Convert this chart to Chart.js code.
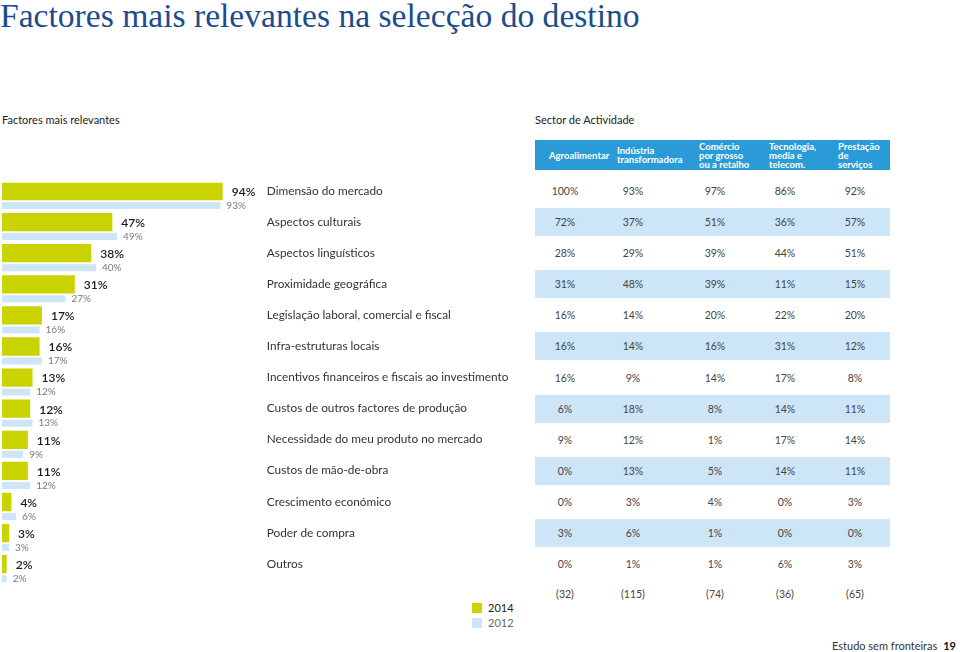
<!DOCTYPE html>
<html lang="pt">
<head>
<meta charset="utf-8">
<title>Factores mais relevantes na selecção do destino</title>
<script src="https://cdn.jsdelivr.net/npm/chart.js@4/dist/chart.umd.min.js"></script>
<style>
  body { margin: 0; background: #fff; }
  #pagina { position: relative; width: 960px; height: 652px; overflow: hidden; font-family: Lato, "Open Sans", sans-serif; color: #333; }
  #titulo { position: absolute; left: 0; top: -3px; font-family: "Liberation Serif", serif; font-size: 33.6px; color: #1b4d8c; white-space: nowrap; }
  .sub { position: absolute; top: 113px; font-size: 11px; color: #222; }
  #caixaGrafico { position: absolute; left: 0; top: 0; width: 530px; height: 600px; }
  #cabecalho { position: absolute; left: 535px; top: 140px; width: 355px; height: 30px; background: #2b9bd7; }
  .sector { position: absolute; top: 140px; height: 30px; display: flex; align-items: center; color: #fff; font-weight: bold; font-size: 9.5px; line-height: 9px; }
  .faixa { position: absolute; left: 535px; width: 355px; height: 28px; background: #cde6f7; }
  .celula { position: absolute; width: 50px; margin-left: -25px; text-align: center; font-size: 10.5px; color: #444; line-height: 12px; }
  .legenda { position: absolute; left: 472px; font-size: 11px; line-height: 12px; }
  .legenda span { display: inline-block; width: 10px; height: 10px; margin-right: 6px; vertical-align: -1px; }
  #rodape { position: absolute; right: 4px; top: 639px; font-size: 11px; color: #333; }
  #rodape b { margin-left: 6px; color: #111; }
</style>
</head>
<body>
<div id="pagina">
  <div id="titulo">Factores mais relevantes na selecção do destino</div>
  <div class="sub" style="left:2px">Factores mais relevantes</div>
  <div class="sub" style="left:535px">Sector de Actividade</div>
  <div id="cabecalho"></div>
  <div id="tabela"></div>
  <div id="caixaGrafico"><canvas id="graficoFactores"></canvas></div>
  <div class="legenda" style="top:602px;color:#222"><span style="background:#c8d300"></span>2014</div>
  <div class="legenda" style="top:617px;color:#666"><span style="background:#cde6f7"></span>2012</div>
  <div id="rodape">Estudo sem fronteiras<b>19</b></div>
</div>
<script>
// Factores e resultados globais
const factores = [
  'Dimensão do mercado', 'Aspectos culturais', 'Aspectos linguísticos', 'Proximidade geográfica',
  'Legislação laboral, comercial e fiscal', 'Infra-estruturas locais',
  'Incentivos financeiros e fiscais ao investimento', 'Custos de outros factores de produção',
  'Necessidade do meu produto no mercado', 'Custos de mão-de-obra', 'Crescimento económico',
  'Poder de compra', 'Outros'
];
const valores2014 = [94, 47, 38, 31, 17, 16, 13, 12, 11, 11, 4, 3, 2];
const valores2012 = [93, 49, 40, 27, 16, 17, 12, 13, 9, 12, 6, 3, 2];

// Sectores de actividade
const sectores = [
  ['Agroalimentar'],
  ['Indústria', 'transformadora'],
  ['Comércio', 'por grosso', 'ou a retalho'],
  ['Tecnologia,', 'media e', 'telecom.'],
  ['Prestação', 'de', 'serviços']
];
const agroalimentar = [100, 72, 28, 31, 16, 16, 16, 6, 9, 0, 0, 3, 0];
const industria = [93, 37, 29, 48, 14, 14, 9, 18, 12, 13, 3, 6, 1];
const comercio = [97, 51, 39, 39, 20, 16, 14, 8, 1, 5, 4, 1, 1];
const tecnologia = [86, 36, 44, 11, 22, 31, 17, 14, 17, 14, 0, 0, 6];
const servicos = [92, 57, 51, 15, 20, 12, 8, 11, 14, 11, 3, 0, 3];
const respostas = [32, 115, 74, 36, 65];

const colunasX = [565, 633, 715, 785, 855];
const cabecalhoX = [549, 617, 699, 769, 838];

// etiquetas de percentagem junto das barras
const etiquetasValores = {
  id: 'etiquetasValores',
  afterDatasetsDraw(chart) {
    const ctx = chart.ctx;
    ctx.save();
    ctx.textBaseline = 'middle';
    ctx.textAlign = 'left';
    chart.data.datasets.forEach(function(ds, di) {
      const meta = chart.getDatasetMeta(di);
      ctx.font = di === 0 ? '600 12px Lato, sans-serif' : '10px Lato, sans-serif';
      ctx.fillStyle = di === 0 ? '#1a1a1a' : '#7a7a7a';
      meta.data.forEach(function(barra, i) {
        ctx.fillText(ds.data[i] + '%', barra.x + (di === 0 ? 9 : 6), barra.y + (di === 0 ? 1 : 0));
      });
    });
    ctx.restore();
  }
};

const grafico = new Chart(document.getElementById('graficoFactores'), {
  type: 'bar',
  data: {
    labels: factores,
    datasets: [{
      label: '2014',
      data: valores2014,
      backgroundColor: '#c8d300',
      categoryPercentage: 0.9325,
      barPercentage: 1.26
    }, {
      label: '2012',
      data: valores2012,
      backgroundColor: '#cde6f7',
      categoryPercentage: 0.9325,
      barPercentage: 0.483
    }]
  },
  options: {
    indexAxis: 'y',
    responsive: true,
    maintainAspectRatio: false,
    animation: false,
    layout: { padding: { left: 2, top: 182.7, bottom: 13, right: 0 } },
    scales: {
      x: { display: false, min: 0, max: 100 },
      y: {
        position: 'right',
        // tickLength em vez de padding para o eixo não roubar altura
        grid: { display: false, drawTicks: true, tickLength: 30 },
        border: { display: false },
        ticks: { padding: 0, labelOffset: -7.5, color: '#333', font: { family: 'Lato, sans-serif', size: 11.8 } },
        afterFit: function(scale) { scale.width = 293.2; }
      }
    },
    plugins: { legend: { display: false }, tooltip: { enabled: false } }
  },
  plugins: [etiquetasValores]
});

// cabeçalho dos sectores
const pagina = document.getElementById('pagina');
sectores.forEach(function(linhas, j) {
  const el = document.createElement('div');
  el.className = 'sector';
  el.style.left = cabecalhoX[j] + 'px';
  el.innerHTML = linhas.join('<br>');
  pagina.appendChild(el);
});

// tabela por sector, alinhada com as barras de 2014
const tabela = document.getElementById('tabela');
const colunas = [agroalimentar, industria, comercio, tecnologia, servicos];
const barras = grafico.getDatasetMeta(0).data;
factores.forEach(function(f, i) {
  const yc = barras[i].y;
  if (i % 2 === 1) {
    const faixa = document.createElement('div');
    faixa.className = 'faixa';
    faixa.style.top = (yc - 14) + 'px';
    tabela.appendChild(faixa);
  }
  colunas.forEach(function(col, j) {
    const c = document.createElement('div');
    c.className = 'celula';
    c.style.left = colunasX[j] + 'px';
    c.style.top = (yc - 6) + 'px';
    c.textContent = col[i] + '%';
    tabela.appendChild(c);
  });
});
respostas.forEach(function(n, j) {
  const c = document.createElement('div');
  c.className = 'celula';
  c.style.left = colunasX[j] + 'px';
  c.style.top = '588px';
  c.textContent = '(' + n + ')';
  tabela.appendChild(c);
});
</script>
</body>
</html>
